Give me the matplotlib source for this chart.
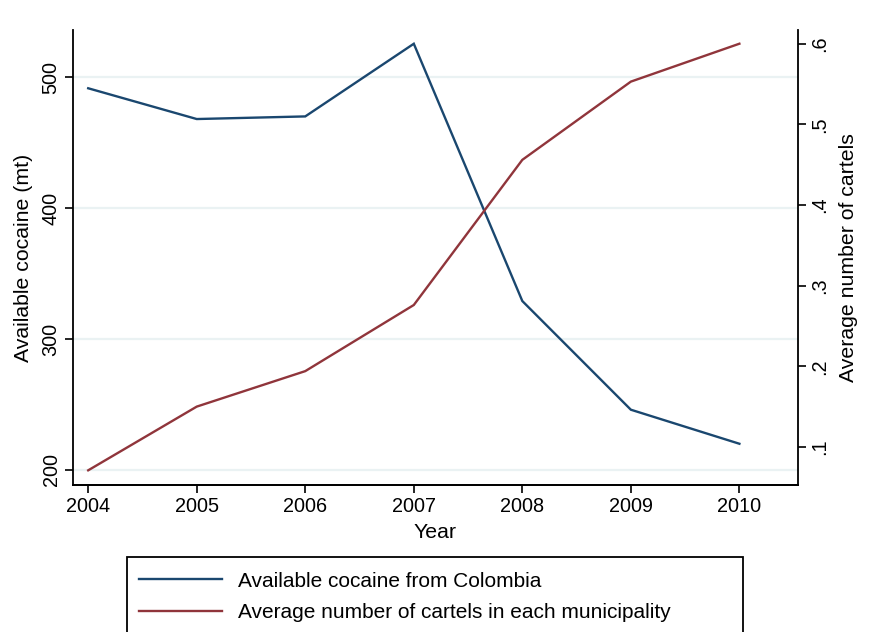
import matplotlib
matplotlib.use("Agg")
import matplotlib.pyplot as plt
from matplotlib.lines import Line2D
from matplotlib.patches import Rectangle

plt.rcParams['font.family'] = ['Liberation Sans', 'DejaVu Sans']

years = [2004, 2005, 2006, 2007, 2008, 2009, 2010]
cocaine = [491.5, 468, 470, 525.5, 329, 246, 220]
cartels = [0.071, 0.150, 0.194, 0.276, 0.456, 0.553, 0.600]

left_ticks = [200, 300, 400, 500]
right_ticks = [0.1, 0.2, 0.3, 0.4, 0.5, 0.6]
right_labels = ['.1', '.2', '.3', '.4', '.5', '.6']

navy = '#1a476f'
maroon = '#90353b'
grid_c = '#eaf2f3'

W, H = 881, 632
fig = plt.figure(figsize=(W/100, H/100), dpi=100)
ax = fig.add_axes([73/W, 1-485/H, (798-73)/W, (485-30)/H])
ax2 = ax.twinx()

for t in left_ticks:
    ax.axhline(t, color=grid_c, lw=1.6, zorder=0)

ax.plot(years, cocaine, color=navy, lw=1.7, solid_joinstyle='miter')
ax2.plot(years, cartels, color=maroon, lw=1.7, solid_joinstyle='miter')

ax.set_xlim(2003.86, 2010.54)
ax.set_ylim(188.5, 536)
ax2.set_ylim(0.0528, 0.617)

TS = 14.3
LS = 15.3
ax.set_yticks(left_ticks)
ax.set_yticklabels([str(t) for t in left_ticks], rotation=90, va='center', fontsize=TS)
ax.set_xticks(years)
ax.set_xticklabels([str(y) for y in years], fontsize=TS)
ax2.set_yticks(right_ticks)
ax2.set_yticklabels(right_labels, rotation=90, va='center', fontsize=TS)

for a in (ax, ax2):
    a.spines['top'].set_visible(False)
    for s in ('left', 'right', 'bottom'):
        a.spines[s].set_linewidth(1.3)
    a.tick_params(direction='out', length=6, width=1.2, pad=3)
ax2.spines['left'].set_visible(False)
ax.spines['right'].set_visible(False)

ax.set_xlabel('Year', fontsize=LS, labelpad=5)
ax.set_ylabel('Available cocaine (mt)', fontsize=LS, labelpad=6)
ax2.set_ylabel('Average number of cartels', fontsize=LS, labelpad=7, rotation=90)

handles = [Line2D([], [], color=navy, lw=1.7), Line2D([], [], color=maroon, lw=1.7)]
labels = ['Available cocaine from Colombia', 'Average number of cartels in each municipality']
leg = fig.legend(handles, labels, loc='upper left',
                 bbox_to_anchor=(124/W, 1-557/H), borderaxespad=0,
                 fontsize=15, handlelength=4.0, handletextpad=0.75,
                 labelspacing=0.6, borderpad=0.7, frameon=False)
fig.patches.append(Rectangle((127/W, -0.1), (743-127)/W, 0.1 + 1-557/H,
                             transform=fig.transFigure, fill=False,
                             edgecolor='black', lw=1.3))

fig.savefig('out.png', dpi=100)
